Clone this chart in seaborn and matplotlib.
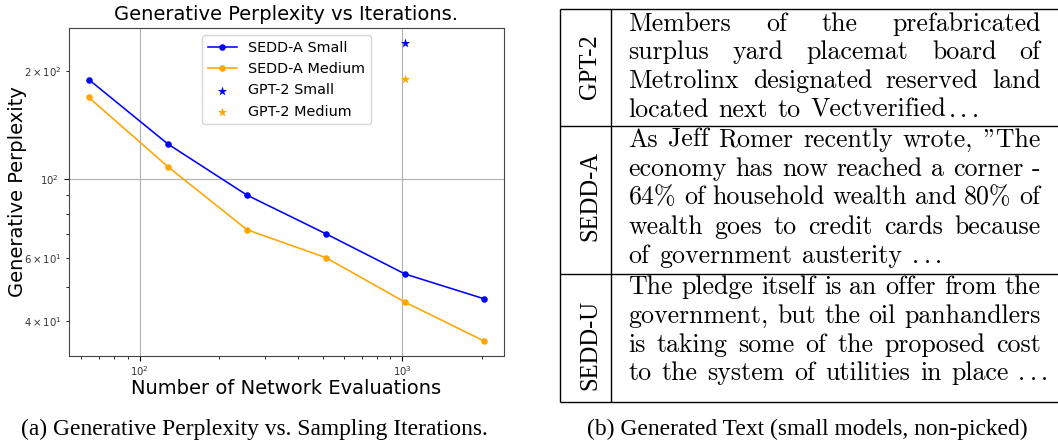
import numpy as np
import pandas as pd
import matplotlib
matplotlib.use("Agg")
import matplotlib.pyplot as plt
import seaborn as sns

# ---------------- data ----------------
steps = [64, 128, 256, 512, 1024, 2048]
sedd_small = [189.6, 125.2, 90.1, 70.2, 54.2, 46.2]
sedd_medium = [169.0, 108.2, 72.1, 60.2, 45.2, 35.2]
gpt2_steps = [1024]
gpt2_small = [240.0]
gpt2_medium = [190.0]

row_labels = ["GPT-2", "SEDD-A", "SEDD-U"]
paragraphs = [
    ["Members of the prefabricated",
     "surplus yard placemat board of",
     "Metrolinx designated reserved land",
     "located next to Vectverified\u2026"],
    ["As Jeff Romer recently wrote, \"The",
     "economy has now reached a corner -",
     "64% of household wealth and 80% of",
     "wealth goes to credit cards because",
     "of government austerity \u2026"],
    ["The pledge itself is an offer from the",
     "government, but the oil panhandlers",
     "is taking some of the proposed cost",
     "to the system of utilities in place \u2026"],
]
caption_a = "(a) Generative Perplexity vs. Sampling Iterations."
caption_b = "(b) Generated Text (small models, non-picked)"

# ---------------- figure ----------------
W, H = 1058, 441
fig = plt.figure(figsize=(W / 100, H / 100), dpi=100)
ax_l, ax_r, ax_t, ax_b = 69, 504, 28, 356
ax = fig.add_axes([ax_l / W, 1 - ax_b / H, (ax_r - ax_l) / W, (ax_b - ax_t) / H])
ax.set_xscale("log")
ax.set_yscale("log")

df_small = pd.DataFrame({"steps": steps, "ppl": sedd_small})
df_medium = pd.DataFrame({"steps": steps, "ppl": sedd_medium})
sns.lineplot(data=df_small, x="steps", y="ppl", ax=ax, color="blue", marker="o",
             markersize=4.7, markeredgewidth=0, linewidth=1.15, label="SEDD-A Small")
sns.lineplot(data=df_medium, x="steps", y="ppl", ax=ax, color="orange", marker="o",
             markersize=4.7, markeredgewidth=0, linewidth=1.15, label="SEDD-A Medium")
sns.scatterplot(x=gpt2_steps, y=gpt2_small, ax=ax, color="blue", marker="*",
                s=50, linewidth=0, label="GPT-2 Small")
sns.scatterplot(x=gpt2_steps, y=gpt2_medium, ax=ax, color="orange", marker="*",
                s=50, linewidth=0, label="GPT-2 Medium")

ax.grid(True, which="major", color="#b0b0b0", linewidth=0.8)
ax.set_axisbelow(True)
ax.set_title("Generative Perplexity vs Iterations.", fontsize=14)
ax.set_xlabel("Number of Network Evaluations", fontsize=14)
ax.set_ylabel("Generative Perplexity", fontsize=14)
ax_h = ax_b - ax_t
ax_w = ax_r - ax_l
ax.xaxis.set_label_coords(0.5, -(379.5 - ax_b) / ax_h)
ax.yaxis.set_label_coords(-(ax_l - 27.5) / ax_w, 0.5)
ax.tick_params(axis="both", which="both", labelsize=7.3, labelcolor="#333333")
ax.tick_params(axis="x", which="both", pad=2.6)
for sp in ax.spines.values():
    sp.set_color("#444444")
ax.legend(loc="upper center", fontsize=10.4)

# ---------------- right panel: text table ----------------
tab = fig.add_axes([0, 0, 1, 1])
tab.set_xlim(0, W)
tab.set_ylim(H, 0)
tab.axis("off")

x_left, x_div, x_right = 560, 611, W
row_edges = [9, 126.3, 274, 402]
for yy in row_edges:
    tab.plot([x_left, x_right], [yy, yy], color="black", lw=1.0, solid_capstyle="butt")
for xx in [x_left, x_div]:
    tab.plot([xx, xx], [row_edges[0], row_edges[-1]], color="black", lw=1.0,
             solid_capstyle="butt")

label_centers = [67, 196, 345]
for lab, yc in zip(row_labels, label_centers):
    tab.text(596, yc, lab, rotation=90, rotation_mode="anchor", ha="center",
             va="baseline", fontsize=17.7, family="Liberation Serif")

BODY = 18.6
em = BODY * 100 / 72
txt_l, txt_r = 628.5, 1042.7
baselines = [
    [30.7, 59.3, 88.3, 116.7],
    [146.7, 175.7, 204.5, 234.0, 263.3],
    [294.0, 323.3, 351.7, 380.0],
]

fig.canvas.draw()
renderer = fig.canvas.get_renderer()


def make_word(word, y):
    base = word.replace("\u2026", "")
    ndots = word.count("\u2026") * 3
    objs, offs = [], []
    cur = 0.0
    if base:
        t = tab.text(0, y, base, fontsize=BODY, family="cmr10", va="baseline", ha="left")
        objs.append(t)
        offs.append(0.0)
        cur = t.get_window_extent(renderer).width + 0.08 * em
    for k in range(ndots):
        t = tab.text(0, y, ".", fontsize=BODY, family="cmr10", va="baseline", ha="left")
        objs.append(t)
        offs.append(cur)
        w = t.get_window_extent(renderer).width
        cur += w + (0.444 * em - w if k < ndots - 1 else 0)
    return objs, offs, cur


for para, ys in zip(paragraphs, baselines):
    for i, (line, y) in enumerate(zip(para, ys)):
        words = line.split(" ")
        made = [make_word(w, y) for w in words]
        widths = [m[2] for m in made]
        last = i == len(para) - 1
        if last or len(words) == 1:
            gap = 0.30 * em
        else:
            gap = (txt_r - txt_l - sum(widths)) / (len(words) - 1)
        x = txt_l
        for objs, offs, wd in made:
            for t, o in zip(objs, offs):
                t.set_x(x + o)
            x += wd + gap

tab.text(254.3, 435, caption_a, ha="center", va="baseline", fontsize=16.9,
         family="Liberation Serif")
tab.text(807, 435, caption_b, ha="center", va="baseline", fontsize=16.9,
         family="Liberation Serif")

fig.savefig("out.png", dpi=100)
